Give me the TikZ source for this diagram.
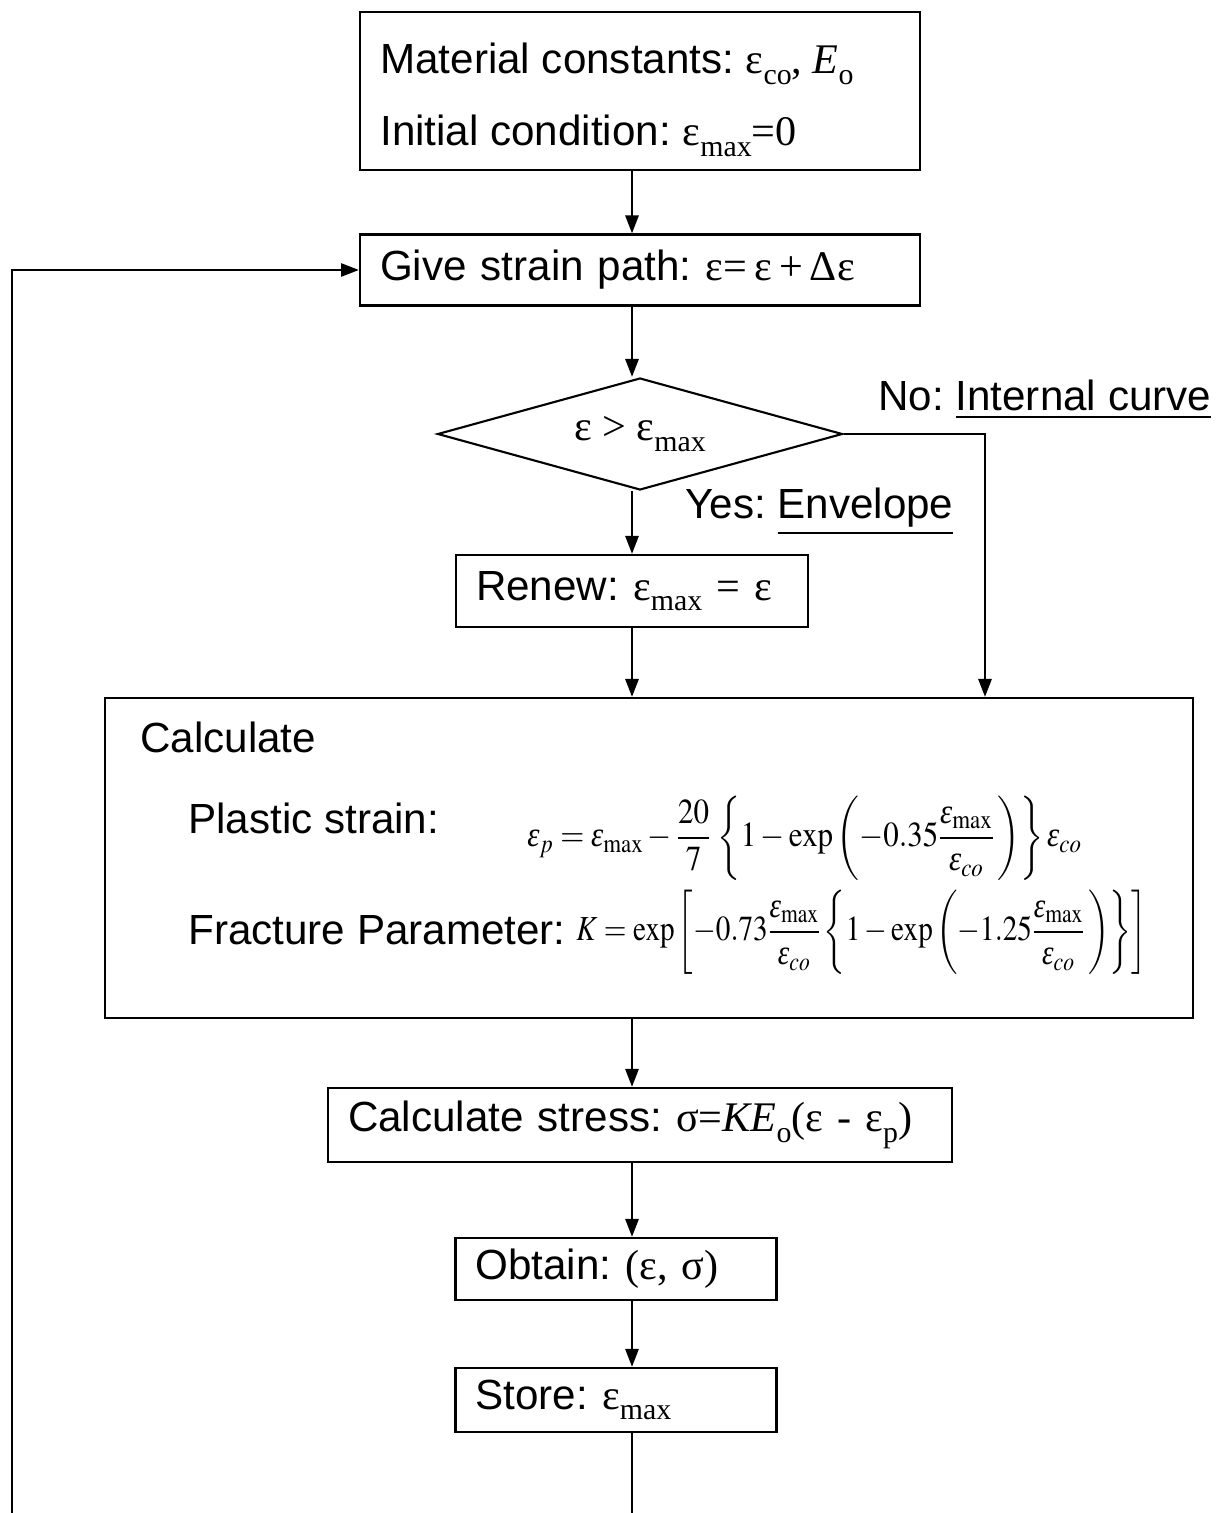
\documentclass[tikz,border=0pt]{standalone}
\usepackage{mathptmx}
\usepackage[no-math]{fontspec}
\setmainfont{Liberation Sans}
\newfontfamily\tms{Liberation Serif}
\usetikzlibrary{shapes.geometric,arrows.meta}

\newcommand{\low}[1]{\raisebox{-0.25em}{\fontsize{17}{17}\selectfont #1}}
\newcommand{\ve}{\mbox{\tms\itshape ε}}

\tikzset{
  box/.style={draw, line width=1.2pt, inner xsep=0.4cm, inner ysep=0pt, align=left},
  test/.style={draw, diamond, aspect=3.6, line width=1.2pt, inner sep=0pt},
  flow/.style={line width=1.6pt, -{Triangle[length=0.36cm,width=0.26cm]}},
  wire/.style={line width=1.6pt},
  txt/.style={inner sep=0pt, anchor=west},
  eqn/.style={inner sep=0pt, anchor=west, font=\fontsize{20}{24}\selectfont}
}

\begin{document}
\begin{tikzpicture}[x=0.02cm, y=-0.02cm, font=\fontsize{24}{29}\selectfont\frenchspacing]
\useasboundingbox (0,0) rectangle (1221,1513);

\node[box, minimum width=11.2cm, minimum height=3.16cm] (init) at (640,91) {};
\node[txt] (mat) at (380,64) {Material constants: {\tms ε\low{co}, {\itshape E}\low{o}}};
\node[txt] (ini) at (380,136) {Initial condition: {\tms ε\low{max}=0}};
\node[box, text width=10.4cm, minimum height=1.42cm] (path) at (640,270)
  {Give strain path: {\tms ε=\,ε\,+\,Δε}};
\node[test, minimum width=8.1cm, minimum height=2.24cm] (cmp) at (640,434)
  {\tms ε > ε\low{max}};
\node[box, text width=6.24cm, minimum height=1.44cm] (renew) at (632,591)
  {Renew: {\tms ε\low{max} = ε}};
\node[box, minimum width=21.76cm, minimum height=6.4cm] (calc) at (649,858) {};
\node[box, text width=11.68cm, minimum height=1.48cm] (stress) at (640,1125)
  {Calculate stress: {\tms σ={\itshape KE}\low{o}(ε - ε\low{p})}};
\node[box, text width=5.62cm, minimum height=1.24cm] (obtain) at (616,1269)
  {Obtain: {\tms (ε, σ)}};
\node[box, text width=5.62cm, minimum height=1.28cm] (store) at (616,1400)
  {Store: {\tms ε\low{max}}};

% inside the calculation box
\node[txt] (calchd) at (140,737) {Calculate};
\node[txt] (plab) at (188,818) {Plastic strain:};
\node[eqn] (pform) at (527,838) {\scalebox{0.88}[1]{$\displaystyle
  \ve_p=\ve_{\mathrm{max}}-\frac{20}{7}\,\left\{1-\exp\left(-0.35\frac{\ve_{\mathrm{max}}}{\ve_{co}}\,\right)\right\}\ve_{co}$}};
\node[txt] (klab) at (188,930) {Fracture Parameter:};
\node[eqn] (kform) at (576,932) {\scalebox{0.83}[1]{$\displaystyle
  K=\exp\left[-0.73\frac{\ve_{\mathrm{max}}}{\ve_{co}}\left\{1-\exp\left(-1.25\frac{\ve_{\mathrm{max}}}{\ve_{co}}\,\right)\right\}\right]$}};

% branch labels
\node[txt] (nolab) at (878,400) {No: \underline{Internal curve}};
\node[txt] (yeslab) at (685,512) {Yes: \underline{Envelope}};

\coordinate (col) at (632,0);
\coordinate (nocol) at (985,0);
\coordinate (colend) at (632,1513);
\coordinate (loopend) at (12,1513);

\draw[flow] (init.south -| col) -- (path.north -| col);
\draw[flow] (path.south -| col) -- (cmp.north -| col);
\draw[flow] (cmp.south -| col) -- (renew.north -| col);
\draw[flow] (renew.south -| col) -- (calc.north -| col);
\draw[flow] (cmp.east) -| (nocol |- calc.north);
\draw[flow] (calc.south -| col) -- (stress.north -| col);
\draw[flow] (stress.south -| col) -- (obtain.north -| col);
\draw[flow] (obtain.south -| col) -- (store.north -| col);
\draw[wire] (store.south -| col) -- (colend);
\draw[flow] (loopend) |- (path.west);
\end{tikzpicture}
\end{document}
